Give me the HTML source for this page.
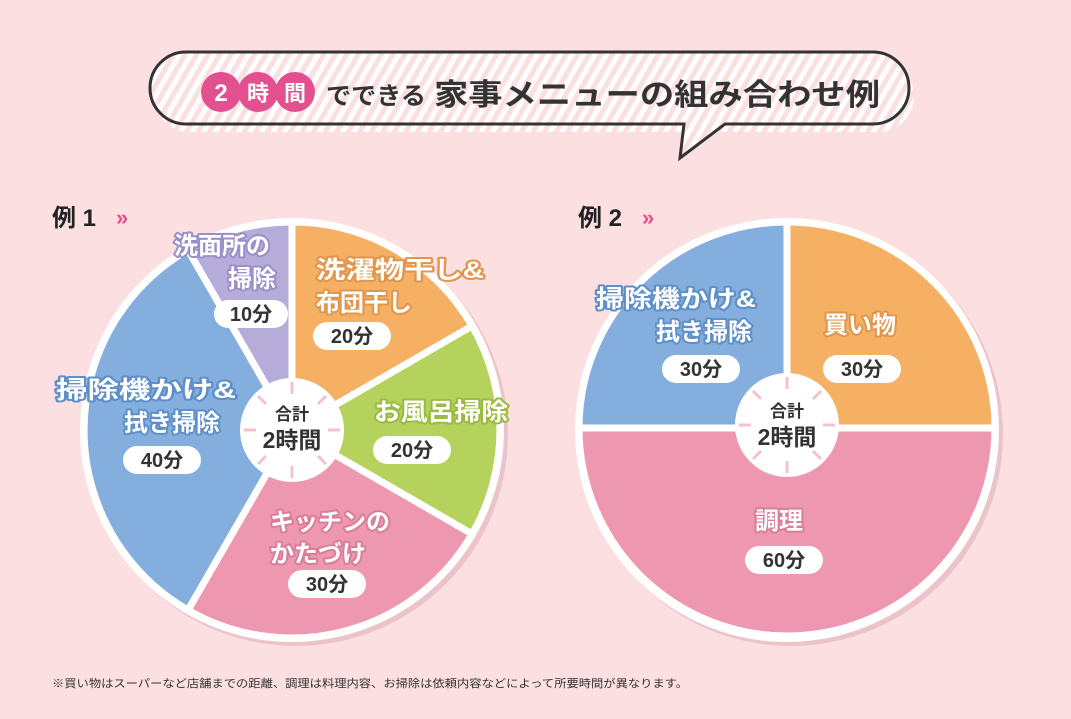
<!DOCTYPE html>
<html><head><meta charset="utf-8"><style>
body{margin:0;background:#fbdfe1;}
svg{display:block}
text{font-family:"Liberation Sans","Noto Sans CJK JP",sans-serif;font-weight:bold}
.lb{fill:#fff;paint-order:stroke;stroke-width:4px;stroke-linejoin:round;font-size:24px}
.pill{fill:#fff}
.pt{fill:#333;font-size:20px;text-anchor:middle}
</style></head><body>
<svg width="1071" height="719" viewBox="0 0 1071 719">
<defs>
<pattern id="st" width="10" height="10" patternUnits="userSpaceOnUse" patternTransform="rotate(30)">
<rect width="10" height="10" fill="#fbdfe1"/><rect width="5" height="10" fill="#fff"/>
</pattern>
</defs>
<rect x="154" y="60" width="760" height="72" rx="36" fill="url(#st)"/>
<path d="M186,52 H873 A36,36 0 0 1 873,124 H725 L680,158 L684,124 H186 A36,36 0 0 1 186,52 Z" fill="url(#st)" stroke="#333" stroke-width="3"/>
<circle cx="221" cy="92" r="20" fill="#e2508f"/><circle cx="258" cy="92" r="20" fill="#e2508f"/><circle cx="295" cy="92" r="20" fill="#e2508f"/>
<text x="221" y="101" fill="#fff" font-size="24" text-anchor="middle">2</text>
<text x="258" y="101" fill="#fff" font-size="22" text-anchor="middle">時</text>
<text x="295" y="101" fill="#fff" font-size="22" text-anchor="middle">間</text>
<text x="326" y="104" fill="#333" font-size="24" textLength="100" lengthAdjust="spacingAndGlyphs">でできる</text>
<text x="434" y="105" fill="#333" font-size="30" textLength="446" lengthAdjust="spacingAndGlyphs">家事メニューの組み合わせ例</text>

<text x="52" y="226" fill="#222" font-size="24">例 1</text>
<text x="116" y="225" fill="#e2508f" font-size="22">»</text>
<text x="578" y="226" fill="#222" font-size="24">例 2</text>
<text x="642" y="225" fill="#e2508f" font-size="22">»</text>

<circle cx="296" cy="434" r="212" fill="#ecc3c9"/>
<circle cx="292" cy="430" r="212" fill="#fff"/>
<g stroke="#fff" stroke-width="7">
<path d="M292,430 L292,222 A208,208 0 0 1 472.1,326 Z" fill="#f5b064"/>
<path d="M292,430 L472.1,326 A208,208 0 0 1 472.1,534 Z" fill="#b5d35c"/>
<path d="M292,430 L472.1,534 A208,208 0 0 1 188,610.1 Z" fill="#ee97b0"/>
<path d="M292,430 L188,610.1 A208,208 0 0 1 188,249.9 Z" fill="#84aedd"/>
<path d="M292,430 L188,249.9 A208,208 0 0 1 292,222 Z" fill="#b6acd9"/>
</g>
<circle cx="292" cy="430" r="52" fill="#fff"/>
<g stroke="#f6c1cf" stroke-width="3">
<line x1="292" y1="382" x2="292" y2="394"/><line x1="292" y1="466" x2="292" y2="478"/>
<line x1="244" y1="430" x2="256" y2="430"/><line x1="328" y1="430" x2="340" y2="430"/>
<line x1="258" y1="396" x2="266" y2="404"/><line x1="318" y1="456" x2="326" y2="464"/>
<line x1="326" y1="396" x2="318" y2="404"/><line x1="258" y1="464" x2="266" y2="456"/>
</g>
<text x="292" y="420" fill="#333" font-size="17" text-anchor="middle">合計</text>
<text x="292" y="448" fill="#333" font-size="23" text-anchor="middle">2時間</text>

<text x="174" y="254" class="lb" stroke="#9a8fc8">洗面所の</text>
<text x="228" y="287" class="lb" stroke="#9a8fc8">掃除</text>
<rect x="214" y="300" width="74" height="28" rx="14" class="pill"/><text x="251" y="321" class="pt">10分</text>
<text x="316" y="278" class="lb" stroke="#e0964c" textLength="168" lengthAdjust="spacingAndGlyphs">洗濯物干し&amp;</text>
<text x="316" y="311" class="lb" stroke="#e0964c">布団干し</text>
<rect x="313" y="322" width="78" height="28" rx="14" class="pill"/><text x="352" y="343" class="pt">20分</text>
<text x="374" y="420" class="lb" stroke="#9bbb43" textLength="134" lengthAdjust="spacingAndGlyphs">お風呂掃除</text>
<rect x="373" y="436" width="78" height="28" rx="14" class="pill"/><text x="412" y="457" class="pt">20分</text>
<text x="270" y="530" class="lb" stroke="#d97d98">キッチンの</text>
<text x="270" y="562" class="lb" stroke="#d97d98">かたづけ</text>
<rect x="288" y="570" width="78" height="28" rx="14" class="pill"/><text x="327" y="591" class="pt">30分</text>
<text x="56" y="398" class="lb" stroke="#5f8fc8" textLength="180" lengthAdjust="spacingAndGlyphs">掃除機かけ&amp;</text>
<text x="124" y="431" class="lb" stroke="#5f8fc8">拭き掃除</text>
<rect x="123" y="446" width="78" height="28" rx="14" class="pill"/><text x="162" y="467" class="pt">40分</text>

<circle cx="791" cy="434" r="212" fill="#ecc3c9"/>
<circle cx="787" cy="430" r="212" fill="#fff"/>
<g stroke="#fff" stroke-width="7">
<path d="M787,428 L787,222 A208,206 0 0 1 995,428 Z" fill="#f5b064"/>
<path d="M787,428 L995,428 A208,208 0 0 1 579,428 Z" fill="#ee97b0"/>
<path d="M787,428 L579,428 A208,206 0 0 1 787,222 Z" fill="#84aedd"/>
</g>
<circle cx="787" cy="425" r="52" fill="#fff"/>
<g stroke="#f6c1cf" stroke-width="3">
<line x1="787" y1="377" x2="787" y2="389"/><line x1="787" y1="461" x2="787" y2="473"/>
<line x1="739" y1="425" x2="751" y2="425"/><line x1="823" y1="425" x2="835" y2="425"/>
<line x1="753" y1="391" x2="761" y2="399"/><line x1="813" y1="451" x2="821" y2="459"/>
<line x1="821" y1="391" x2="813" y2="399"/><line x1="753" y1="459" x2="761" y2="451"/>
</g>
<text x="787" y="417" fill="#333" font-size="17" text-anchor="middle">合計</text>
<text x="787" y="445" fill="#333" font-size="23" text-anchor="middle">2時間</text>
<text x="596" y="307" class="lb" stroke="#5f8fc8" textLength="160" lengthAdjust="spacingAndGlyphs">掃除機かけ&amp;</text>
<text x="656" y="340" class="lb" stroke="#5f8fc8">拭き掃除</text>
<rect x="662" y="355" width="78" height="28" rx="14" class="pill"/><text x="701" y="376" class="pt">30分</text>
<text x="824" y="333" class="lb" stroke="#e0964c">買い物</text>
<rect x="823" y="355" width="78" height="28" rx="14" class="pill"/><text x="862" y="376" class="pt">30分</text>
<text x="755" y="529" class="lb" stroke="#d97d98">調理</text>
<rect x="745" y="546" width="78" height="28" rx="14" class="pill"/><text x="784" y="567" class="pt">60分</text>

<text x="52" y="687" fill="#333" font-size="11" style="font-weight:normal" textLength="636" lengthAdjust="spacingAndGlyphs">※買い物はスーパーなど店舗までの距離、調理は料理内容、お掃除は依頼内容などによって所要時間が異なります。</text>
</svg>
</body></html>
